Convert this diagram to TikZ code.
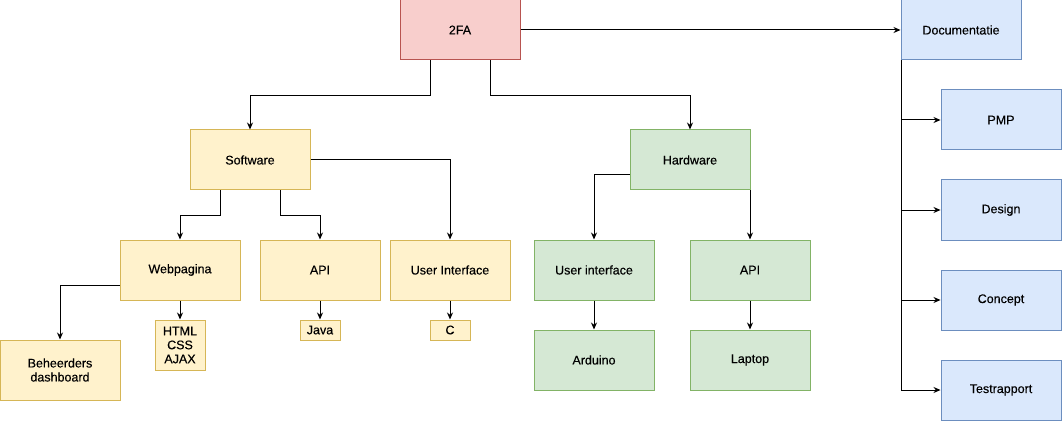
\documentclass[tikz,border=0pt]{standalone}
\usepackage{fontspec}
\setmainfont{Liberation Sans}
\newfontfamily\boxfont[FakeBold=0.3]{Liberation Sans}
\usetikzlibrary{arrows.meta}
\definecolor{redfill}{HTML}{F8CECC}
\definecolor{redline}{HTML}{B85450}
\definecolor{bluefill}{HTML}{DAE8FC}
\definecolor{blueline}{HTML}{6C8EBF}
\definecolor{yelfill}{HTML}{FFF2CC}
\definecolor{yelline}{HTML}{D6B656}
\definecolor{grnfill}{HTML}{D5E8D4}
\definecolor{grnline}{HTML}{82B366}
\begin{document}
\begin{tikzpicture}[x=1pt, y=-1pt,
    box/.style={draw, line width=1pt, minimum width=120pt, minimum height=60pt,
      inner sep=0pt, align=center, font=\boxfont\fontsize{12.5}{14}\selectfont},
    redbox/.style={box, fill=redfill, draw=redline},
    bluebox/.style={box, fill=bluefill, draw=blueline},
    yelbox/.style={box, fill=yelfill, draw=yelline},
    grnbox/.style={box, fill=grnfill, draw=grnline},
    arr/.style={-{Stealth[length=7pt, width=6pt]}, line width=1pt}]
    \useasboundingbox (0,0) rectangle (1062,422);
    % top
    \node[redbox] (twofa) at (460,30) {2FA};
    \node[bluebox] (doc) at (961,30) {Documentatie};
    \foreach \n/\t/\y in {pmp/PMP/120, design/Design/210, concept/Concept/300, test/Testrapport/390}
      \node[bluebox] (\n) at (1001,\y) {\t};
    % software side
    \node[yelbox] (sw) at (250,160) {Software};
    \node[yelbox] (web) at (180,270) {Webpagina};
    \node[yelbox] (swapi) at (320,270) {API};
    \node[yelbox] (swui) at (450,270) {User Interface};
    \node[yelbox] (beh) at (60,370) {Beheerders\\dashboard};
    \node[yelbox, minimum width=50pt, minimum height=50pt] (html) at (180,345) {HTML\\CSS\\AJAX};
    \node[yelbox, minimum width=40pt, minimum height=20pt] (java) at (320,330) {Java};
    \node[yelbox, minimum width=40pt, minimum height=20pt] (c) at (450,330) {C};
    % hardware side
    \node[grnbox] (hw) at (690,160) {Hardware};
    \node[grnbox] (hwui) at (594,270) {User interface};
    \node[grnbox] (hwapi) at (750,270) {API};
    \node[grnbox] (ard) at (594,360) {Arduino};
    \node[grnbox] (lap) at (750,360) {Laptop};
    % connectors
    \draw[arr] (twofa.east) -- (doc.west);
    \draw[arr] ([xshift=-30pt]twofa.south) -- ++(0,35) -| (sw.north);
    \draw[arr] ([xshift=30pt]twofa.south) -- ++(0,35) -| (hw.north);
    \foreach \n in {pmp, design, concept, test}
      \draw[arr] ([xshift=1pt]doc.south west) |- (\n.west);
    \draw[arr] ([xshift=-30pt]sw.south) -- ++(0,25) -| (web.north);
    \draw[arr] ([xshift=30pt]sw.south) -- ++(0,25) -| (swapi.north);
    \draw[arr] (sw.east) -| (swui.north);
    \draw[arr] ([yshift=-15pt]web.west) -| (beh.north);
    \draw[arr] ([yshift=-15pt]hw.west) -| (hwui.north);
    \draw[arr] (hwapi.north |- hw.south) -- (hwapi.north);
    \foreach \a/\b in {web/html, swapi/java, swui/c, hwui/ard, hwapi/lap}
      \draw[arr] (\a.south) -- (\b.north);
\end{tikzpicture}
\end{document}
